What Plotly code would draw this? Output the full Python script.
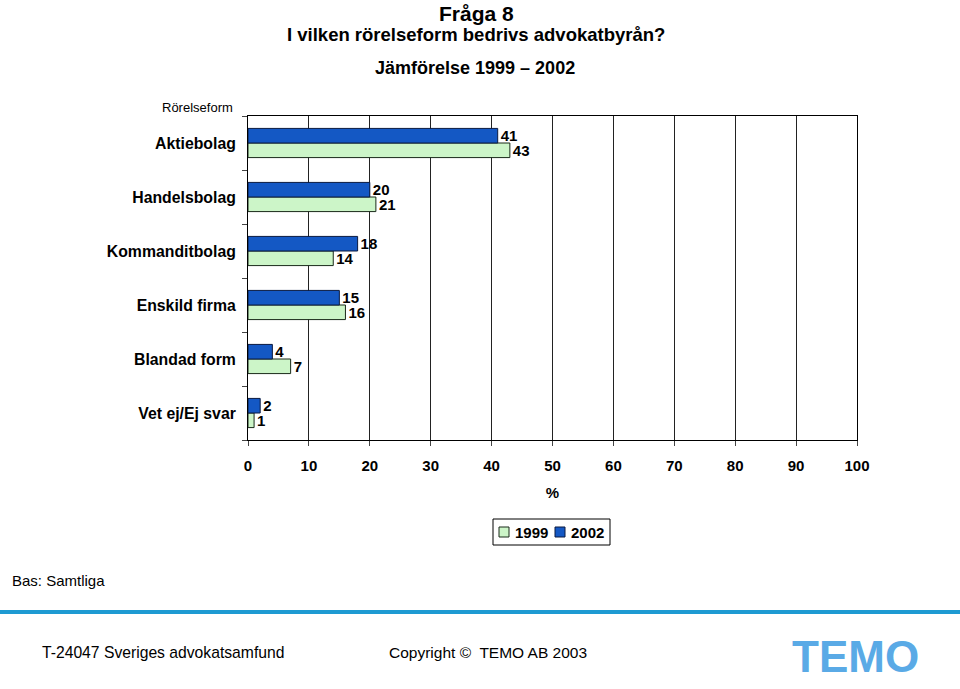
import plotly.graph_objects as go

categories = ["Aktiebolag", "Handelsbolag", "Kommanditbolag", "Enskild firma", "Blandad form", "Vet ej/Ej svar"]
values_1999 = [43, 21, 14, 16, 7, 1]
values_2002 = [41, 20, 18, 15, 4, 2]
x_ticks = [0, 10, 20, 30, 40, 50, 60, 70, 80, 90, 100]

FONT = "Liberation Sans, Arial, sans-serif"
GREEN = "#ccf5c8"
BLUE = "#1458c4"

# page pixel -> paper coordinates (plot area spans page x 248..857, y 116..440)
def px(X):
    return (X - 248) / 609

def py(Y):
    return (440 - Y) / 324

fig = go.Figure()
fig.add_trace(go.Bar(
    y=categories, x=values_1999, orientation="h", name="1999",
    marker=dict(color=GREEN, line=dict(color="#1a2a1a", width=1)),
    text=[str(v) for v in values_1999], textposition="outside", constraintext="none",
    textfont=dict(family=FONT, size=15, color="black", weight="bold"),
    cliponaxis=False, showlegend=False,
))
fig.add_trace(go.Bar(
    y=categories, x=values_2002, orientation="h", name="2002",
    marker=dict(color=BLUE, line=dict(color="#0a1a40", width=1)),
    text=[str(v) for v in values_2002], textposition="outside", constraintext="none",
    textfont=dict(family=FONT, size=15, color="black", weight="bold"),
    cliponaxis=False, showlegend=False,
))

fig.update_layout(
    width=960, height=689,
    margin=dict(l=248, r=103, t=116, b=249),
    paper_bgcolor="white", plot_bgcolor="white",
    barmode="group", bargap=0.46, bargroupgap=0,
    font=dict(family=FONT, size=15, color="black"),
    showlegend=False,
    xaxis=dict(range=[0, 100], tickvals=x_ticks, ticktext=[str(t) for t in x_ticks],
               showgrid=True, gridcolor="#222", gridwidth=1,
               showline=True, linecolor="black", mirror=True, ticks="outside", ticklen=5,
               tickfont=dict(family=FONT, size=15, weight="bold"), zeroline=False,
               ticklabelstandoff=7,
               title=dict(text="%", font=dict(family=FONT, size=15, weight="bold"), standoff=14)),
    yaxis=dict(categoryorder="array", categoryarray=categories[::-1],
               showline=True, linecolor="black", mirror=True,
               ticks="outside", ticklen=5, tickson="boundaries",
               tickfont=dict(family=FONT, size=15.8, weight="bold"), ticklabelstandoff=8),
)

def note(text, X, Y, size, bold=False, anchor="center", color="black", pad=1):
    fig.add_annotation(text=text, x=px(X), y=py(Y), xref="paper", yref="paper",
                       xanchor=anchor, yanchor="middle", showarrow=False, borderpad=pad,
                       font=dict(family=FONT, size=size, color=color,
                                 weight="bold" if bold else "normal"))

note("Fråga 8", 476, 14, 21, bold=True, pad=0)
note("I vilken rörelseform bedrivs advokatbyrån?", 476, 34, 18.5, bold=True)
note("Jämförelse 1999 – 2002", 475, 68, 18, bold=True)
note("Rörelseform", 197, 107, 13)
note("Bas: Samtliga", 10, 580, 15, anchor="left")
note("T-24047 Sveriges advokatsamfund", 40, 652, 15.7, anchor="left")
note("Copyright ©  TEMO AB 2003", 387, 652, 15.5, anchor="left")
note("TEMO", 855, 656, 44, bold=True, color="#5aaae6")

# legend box
fig.add_shape(type="rect", xref="paper", yref="paper",
              x0=px(493), x1=px(610), y0=py(519), y1=py(545),
              line=dict(color="black", width=1), fillcolor="white")
fig.add_shape(type="rect", xref="paper", yref="paper",
              x0=px(499), x1=px(509), y0=py(527), y1=py(537),
              line=dict(color="#1a2a1a", width=1), fillcolor=GREEN)
fig.add_shape(type="rect", xref="paper", yref="paper",
              x0=px(555), x1=px(565), y0=py(527), y1=py(537),
              line=dict(color="#0a1a40", width=1), fillcolor=BLUE)
note("1999", 513, 532, 15, bold=True, anchor="left")
note("2002", 569, 532, 15, bold=True, anchor="left")

# footer line
fig.add_shape(type="line", xref="paper", yref="paper",
              x0=px(0), x1=px(960), y0=py(612), y1=py(612),
              line=dict(color="#1e9ad2", width=4))

fig.write_html("out.html", config={"displayModeBar": False},
               post_script="document.body.style.margin='0';document.body.style.overflow='hidden';")
